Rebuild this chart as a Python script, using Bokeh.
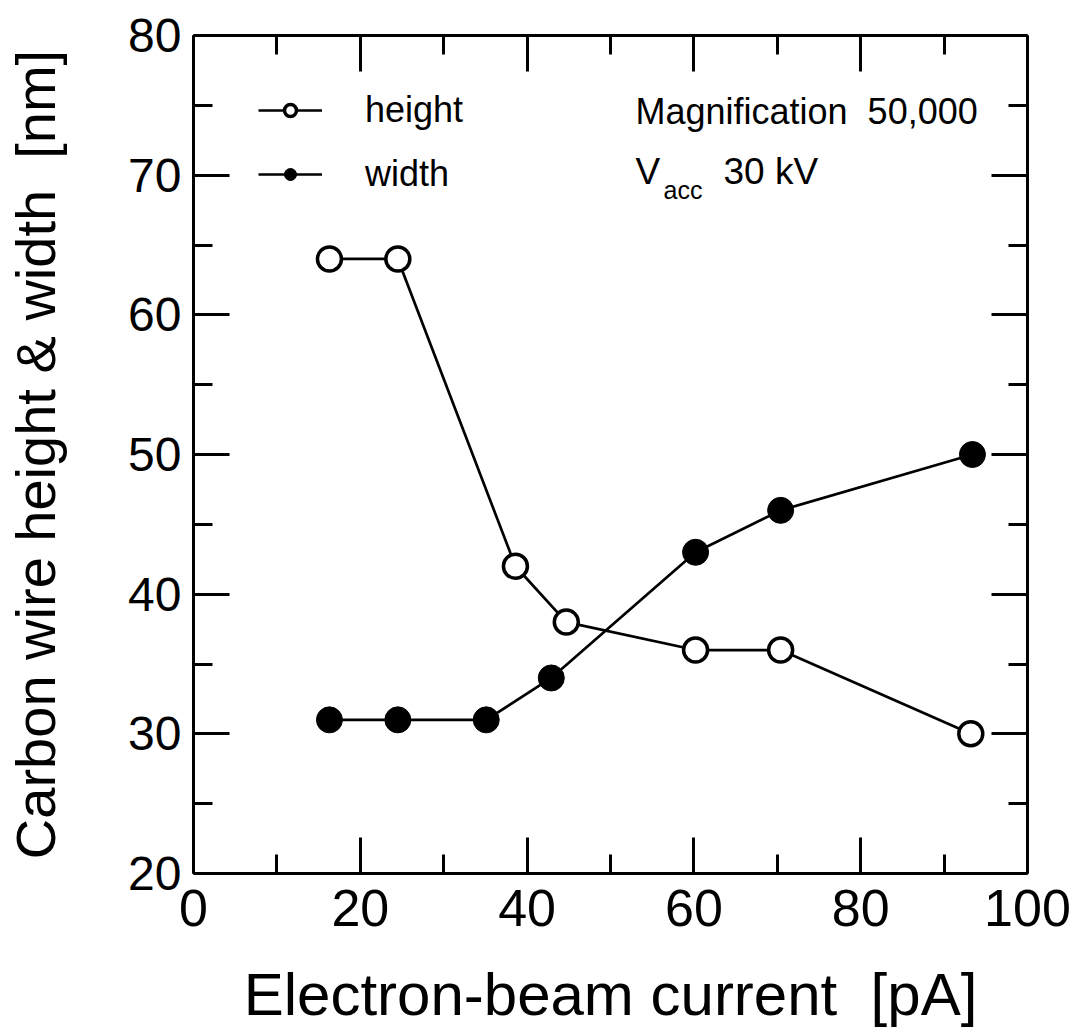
from bokeh.plotting import figure
from bokeh.models import (LinearAxis, Range1d, Legend, LegendItem, Label,
                          FixedTicker, ColumnDataSource, CustomJSTickFormatter)
from bokeh.embed import file_html
from bokeh.resources import INLINE

# ---- data ----
height_current = [16.3, 24.5, 38.6, 44.7, 60.2, 70.4, 93.2]
height_nm = [64, 64, 42, 38, 36, 36, 30]
width_current = [16.3, 24.5, 35.1, 42.9, 60.2, 70.4, 93.4]
width_nm = [31, 31, 31, 34, 43, 46, 50]
x_ticks = [0, 20, 40, 60, 80, 100]
y_ticks = [20, 30, 40, 50, 60, 70, 80]
x_title = "Electron-beam current\u00a0\u00a0[pA]"
y_title = "Carbon wire height & width\u00a0\u00a0[nm]"

FONT = "Liberation Sans"

p = figure(width=1072, height=1031, output_backend="svg", toolbar_location=None,
           x_range=Range1d(0, 100), y_range=Range1d(20, 80),
           min_border_left=193, min_border_right=45, min_border_top=35,
           min_border_bottom=158, x_axis_location=None, y_axis_location=None)
p.grid.visible = False
p.outline_line_color = None
p.background_fill_color = "white"
p.border_fill_color = "white"


def style_axis(ax, ticks, show_labels, size="48px"):
    ax.ticker = FixedTicker(ticks=ticks,
                            minor_ticks=[t + (ticks[1] - ticks[0]) / 2 for t in ticks[:-1]])
    ax.axis_line_width = 3
    ax.axis_line_color = "black"
    ax.major_tick_line_width = 3
    ax.minor_tick_line_width = 3
    ax.major_tick_line_color = "black"
    ax.minor_tick_line_color = "black"
    ax.major_tick_in = 36
    ax.major_tick_out = 0
    ax.minor_tick_in = 19
    ax.minor_tick_out = 0
    ax.major_label_text_font = FONT
    ax.major_label_text_color = "black"
    ax.major_label_text_font_size = size
    if not show_labels:
        ax.formatter = CustomJSTickFormatter(code="return ''")
        ax.major_label_standoff = 0


xb = LinearAxis()
style_axis(xb, x_ticks, True, "52px")
xb.major_label_standoff = 16
xb.axis_label = x_title
xb.axis_label_text_font = FONT
xb.axis_label_text_font_size = "60px"
xb.axis_label_text_font_style = "normal"
xb.axis_label_text_color = "black"
xb.axis_label_standoff = 32
p.add_layout(xb, "below")

yl = LinearAxis()
style_axis(yl, y_ticks, True, "48px")
yl.major_label_standoff = 12
yl.axis_label = y_title
yl.axis_label_text_font = FONT
yl.axis_label_text_font_size = "56px"
yl.axis_label_text_font_style = "normal"
yl.axis_label_text_color = "black"
yl.axis_label_standoff = 58
p.add_layout(yl, "left")

xt = LinearAxis()
style_axis(xt, x_ticks, False, "10px")
p.add_layout(xt, "above")

yr = LinearAxis()
style_axis(yr, y_ticks, False, "10px")
p.add_layout(yr, "right")

hs = ColumnDataSource(dict(x=height_current, y=height_nm))
ws = ColumnDataSource(dict(x=width_current, y=width_nm))

hl = p.line("x", "y", source=hs, line_color="black", line_width=2.7)
hm = p.scatter("x", "y", source=hs, size=24, fill_color="white",
               line_color="black", line_width=3.5)
wl = p.line("x", "y", source=ws, line_color="black", line_width=2.7)
wm = p.scatter("x", "y", source=ws, size=26, fill_color="black",
               line_color="black", line_width=1)

legend = Legend(items=[LegendItem(label="height", renderers=[hl, hm]),
                       LegendItem(label="width", renderers=[wl, wm])],
                location=(65, 678), padding=0, margin=0,
                border_line_color=None, background_fill_alpha=0,
                glyph_width=64, glyph_height=30, label_height=30,
                spacing=22, label_standoff=43,
                label_text_font=FONT, label_text_font_size="36px",
                label_text_color="black",
                label_text_baseline="middle")
p.add_layout(legend, "center")

common = dict(x_units="screen", y_units="screen", text_font=FONT,
              text_color="black", text_baseline="middle")
p.add_layout(Label(x=442, y=762, text="Magnification\u00a0\u00a050,000",
                   text_font_size="36px", **common))
p.add_layout(Label(x=442, y=702, text="V", text_font_size="37px", **common))
p.add_layout(Label(x=470, y=684, text="acc", text_font_size="25px", **common))
p.add_layout(Label(x=530, y=702, text="30 kV", text_font_size="37px", **common))

open("out.html", "w").write(file_html(p, INLINE))
